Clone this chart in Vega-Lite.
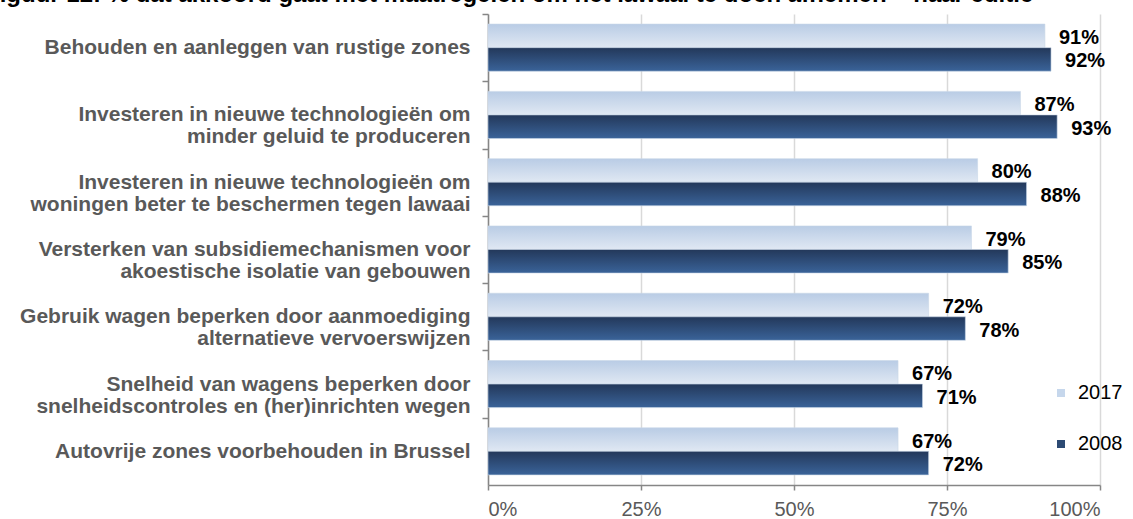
{
  "$schema": "https://vega.github.io/schema/vega-lite/v6.json",
  "width": 612,
  "height": 471,
  "autosize": {"type": "none"},
  "padding": {"left": 488, "top": 14, "right": 33, "bottom": 34},
  "background": "white",
  "title": {
    "text": "Figuur 12: % dat akkoord gaat met maatregelen om het lawaai te doen afnemen – naar editie",
    "anchor": "start",
    "frame": "group",
    "orient": "top",
    "dx": -503,
    "offset": -13,
    "baseline": "alphabetic",
    "font": "Liberation Sans",
    "fontSize": 24,
    "fontWeight": "bold",
    "color": "#000000"
  },
  "config": {
    "view": {"stroke": null},
    "font": "Liberation Sans"
  },
  "data": {
    "values": [
      {"measure": "Behouden en aanleggen van rustige zones", "year": "2017", "value": 0.91},
      {"measure": "Behouden en aanleggen van rustige zones", "year": "2008", "value": 0.92},
      {"measure": "Investeren in nieuwe technologieën om|minder geluid te produceren", "year": "2017", "value": 0.87},
      {"measure": "Investeren in nieuwe technologieën om|minder geluid te produceren", "year": "2008", "value": 0.93},
      {"measure": "Investeren in nieuwe technologieën om|woningen beter te beschermen tegen lawaai", "year": "2017", "value": 0.80},
      {"measure": "Investeren in nieuwe technologieën om|woningen beter te beschermen tegen lawaai", "year": "2008", "value": 0.88},
      {"measure": "Versterken van subsidiemechanismen voor|akoestische isolatie van gebouwen", "year": "2017", "value": 0.79},
      {"measure": "Versterken van subsidiemechanismen voor|akoestische isolatie van gebouwen", "year": "2008", "value": 0.85},
      {"measure": "Gebruik wagen beperken door aanmoediging|alternatieve vervoerswijzen", "year": "2017", "value": 0.72},
      {"measure": "Gebruik wagen beperken door aanmoediging|alternatieve vervoerswijzen", "year": "2008", "value": 0.78},
      {"measure": "Snelheid van wagens beperken door|snelheidscontroles en (her)inrichten wegen", "year": "2017", "value": 0.67},
      {"measure": "Snelheid van wagens beperken door|snelheidscontroles en (her)inrichten wegen", "year": "2008", "value": 0.71},
      {"measure": "Autovrije zones voorbehouden in Brussel", "year": "2017", "value": 0.67},
      {"measure": "Autovrije zones voorbehouden in Brussel", "year": "2008", "value": 0.72}
    ]
  },
  "encoding": {
    "y": {
      "field": "measure",
      "type": "nominal",
      "sort": null,
      "scale": {"paddingInner": 0.3, "paddingOuter": 0.15},
      "axis": {
        "title": null,
        "labelExpr": "length(split(datum.label,'|')) < 2 ? datum.label : [pad(split(datum.label,'|')[0], length(split(datum.label,'|')[0]) + round(max(0, length(split(datum.label,'|')[1]) - length(split(datum.label,'|')[0])) * 1.25), '\u00a0', 'right'), pad(split(datum.label,'|')[1], length(split(datum.label,'|')[1]) + round(max(0, length(split(datum.label,'|')[0]) - length(split(datum.label,'|')[1])) * 1.25), '\u00a0', 'right')]",
        "labelFont": "Liberation Sans",
        "labelFontSize": 21,
        "labelFontWeight": "bold",
        "labelColor": "#595959",
        "labelLineHeight": 22,
        "labelPadding": 12,
        "labelLimit": 600,
        "labelOffset": 33.6,
        "tickSize": 6,
        "tickOffset": -33.6,
        "tickColor": "#868686",
        "tickWidth": 1.5,
        "domainColor": "#868686",
        "domainWidth": 1.5,
        "grid": false
      }
    },
    "yOffset": {"field": "year", "type": "nominal", "sort": ["2017", "2008"]},
    "x": {
      "field": "value",
      "type": "quantitative",
      "scale": {"domain": [0, 1], "nice": false},
      "axis": {
        "title": null,
        "format": ".0%",
        "values": [0, 0.25, 0.5, 0.75, 1],
        "labelFont": "Liberation Sans",
        "labelFontSize": 20,
        "labelColor": "#595959",
        "labelPadding": 9,
        "tickSize": 5,
        "tickColor": "#868686",
        "tickWidth": 1.5,
        "domainColor": "#868686",
        "domainWidth": 1.5,
        "grid": true,
        "gridColor": "#d9d9d9",
        "gridWidth": 1.5
      }
    }
  },
  "layer": [
    {
      "mark": {"type": "bar", "stroke": "#c9d6e8", "strokeWidth": 0.6},
      "encoding": {
        "fill": {
          "condition": {
            "test": "datum.year == '2017'",
            "value": {
              "gradient": "linear", "x1": 0, "y1": 0, "x2": 0, "y2": 1,
              "stops": [{"offset": 0, "color": "#b9cce5"}, {"offset": 1, "color": "#e0e8f3"}]
            }
          },
          "value": {
            "gradient": "linear", "x1": 0, "y1": 0, "x2": 0, "y2": 1,
            "stops": [{"offset": 0, "color": "#23385a"}, {"offset": 1, "color": "#3a6399"}]
          }
        }
      }
    },
    {
      "mark": {"type": "point", "shape": "square", "filled": true, "opacity": 0},
      "encoding": {
        "color": {
          "field": "year",
          "type": "nominal",
          "scale": {"domain": ["2017", "2008"], "range": ["#c6d7ec", "#2c4a73"]},
          "legend": {
            "title": null,
            "orient": "none",
            "legendX": 563,
            "legendY": 369,
            "padding": 0,
            "symbolType": "square",
            "symbolSize": 64,
            "symbolOpacity": 1,
            "symbolStrokeWidth": 0,
            "labelFont": "Liberation Sans",
            "labelFontSize": 20,
            "labelColor": "#000000",
            "labelOffset": 7,
            "rowPadding": 31
          }
        }
      }
    },
    {
      "mark": {"type": "text", "align": "left", "baseline": "middle", "dx": 14, "dy": 2, "font": "Liberation Sans", "fontSize": 20, "fontWeight": "bold", "color": "#000000"},
      "encoding": {
        "text": {"field": "value", "type": "quantitative", "format": ".0%"}
      }
    }
  ]
}
